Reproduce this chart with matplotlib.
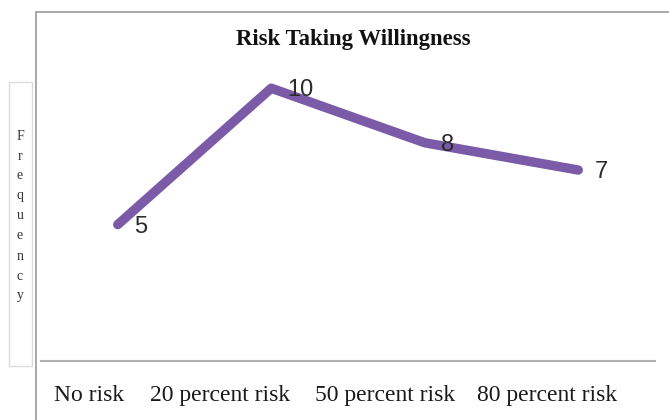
import matplotlib
matplotlib.use("Agg")
import matplotlib.pyplot as plt
from matplotlib.patches import Rectangle
from matplotlib.transforms import ScaledTranslation

categories = ["No risk", "20 percent risk", "50 percent risk", "80 percent risk"]
frequency = [5, 10, 8, 7]
title = "Risk Taking Willingness"
ylabel = "Frequency"

W, H = 669, 420
fig = plt.figure(figsize=(W / 100, H / 100), dpi=100)
fig.patch.set_facecolor("white")

# outer frame and y-label box (figure pixel coordinates)
def px_rect(x0, y0, x1, y1, **kw):
    fig.patches.append(Rectangle((x0 / W, 1 - y1 / H), (x1 - x0) / W, (y1 - y0) / H,
                                 transform=fig.transFigure, fill=False, **kw))

px_rect(36, 12, 700, 440, edgecolor="#9a9a9a", linewidth=1.2)
px_rect(9, 82, 32, 366, edgecolor="#dcdcdc", linewidth=1.0)

left, right, top, bottom = 41, 655, 20, 361
ax = fig.add_axes([left / W, 1 - bottom / H, (right - left) / W, (bottom - top) / H])
ax.set_facecolor("none")
x = list(range(len(categories)))
ax.plot(x, frequency, color="#7B5BA8", linewidth=6.8, solid_capstyle="round",
        solid_joinstyle="round")
ax.set_xlim(-0.5, len(categories) - 0.5)
ax.set_ylim(0, 12.5)

for s in ["top", "right", "left"]:
    ax.spines[s].set_visible(False)
ax.spines["bottom"].set_color("#b0b0b0")
ax.spines["bottom"].set_linewidth(1.5)
ax.set_yticks([])
ax.set_xticks(x)
ax.set_xticklabels(categories, family="Liberation Serif", fontsize=17, color="#1a1a1a")
ax.tick_params(axis="x", length=0, pad=17)
nudges = [-29, -51, -40, -31]
for lab, dx in zip(ax.get_xticklabels(), nudges):
    lab.set_transform(lab.get_transform() + ScaledTranslation(dx / 100, 0, fig.dpi_scale_trans))

for xi, v in zip(x, frequency):
    ax.annotate(str(v), (xi, v), xytext=(16, -2), textcoords="offset pixels",
                ha="left", va="center", fontsize=17, color="#2a2a2a",
                family="Liberation Sans")

fig.text(353 / W, 1 - 40 / H, title, ha="center", va="center",
         family="Liberation Serif", fontweight="bold", fontsize=16.4, color="#111111")

fig.text(20 / W, 1 - 216 / H, "\n".join(ylabel), ha="center", va="center",
         family="Liberation Serif", fontsize=10, color="#333333", linespacing=1.7)

fig.savefig("out.png", dpi=100)
